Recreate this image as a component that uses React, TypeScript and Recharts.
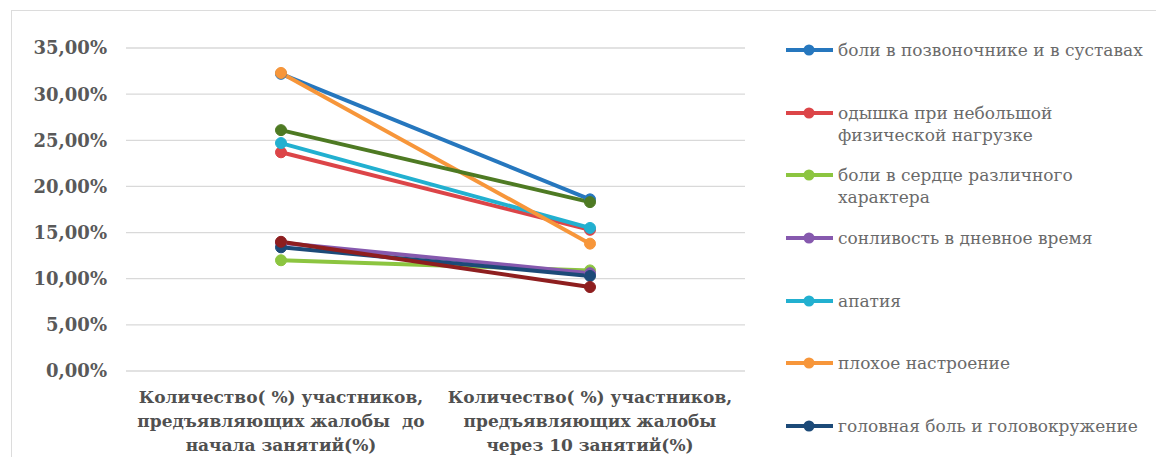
import React from 'react';
import { LineChart, Line, XAxis, YAxis, CartesianGrid, Legend } from 'recharts';

// categories (line breaks as in the original axis labels)
const categories = [
    'Количество( %) участников,\nпредъявляющих жалобы  до\nначала занятий(%)',
    'Количество( %) участников,\nпредъявляющих жалобы\nчерез 10 занятий(%)',
];

// share of participants with each complaint: [before, after 10 sessions]
const spine = [0.322, 0.186];
const dyspnea = [0.237, 0.153];
const heart = [0.12, 0.109];
const sleepiness = [0.139, 0.106];
const apathy = [0.247, 0.155];
const mood = [0.323, 0.138];
const headache = [0.134, 0.103];
const extraRed = [0.14, 0.091];
const extraGreen = [0.261, 0.183];

const yTicks = [0, 0.05, 0.1, 0.15, 0.2, 0.25, 0.3, 0.35];

const series = [
    { key: 'spine', name: 'боли в позвоночнике и в суставах', values: spine, color: '#2677BE' },
    { key: 'dyspnea', name: 'одышка при небольшой\nфизической нагрузке', values: dyspnea, color: '#DC4548' },
    { key: 'heart', name: 'боли в сердце различного\nхарактера', values: heart, color: '#8CC540' },
    { key: 'sleepiness', name: 'сонливость в дневное время', values: sleepiness, color: '#8659AE' },
    { key: 'apathy', name: 'апатия', values: apathy, color: '#22B0D0' },
    { key: 'mood', name: 'плохое настроение', values: mood, color: '#F7963A' },
    { key: 'headache', name: 'головная боль и головокружение', values: headache, color: '#1C4A78' },
    { key: 'extraRed', name: 'extraRed', values: extraRed, color: '#8E1E1F', hidden: true },
    { key: 'extraGreen', name: 'extraGreen', values: extraGreen, color: '#4E7A23', hidden: true },
];

const data = categories.map((c, i) => {
    const row: Record<string, string | number> = { category: c };
    series.forEach(s => { row[s.key] = s.values[i]; });
    return row;
});

const pct = (v: number) => (v * 100).toFixed(2).replace('.', ',') + '%';

const CategoryTick = (props: any) => {
    const { x, y, payload } = props;
    const lines = String(payload.value).split('\n');
    return (
        <g transform={`translate(${x},${y})`}>
            <text textAnchor="middle" fill="#505050" fontFamily="DejaVu Serif" fontWeight="bold" fontSize={17}>
                {lines.map((l, i) => (
                    <tspan key={i} x={0} dy={24} style={{ whiteSpace: 'pre' }}>{l}</tspan>
                ))}
            </text>
        </g>
    );
};

const order = series.map(s => s.name);

const renderLegend = (props: any) => {
    const items = (props.payload || [])
        .filter((p: any) => p.type !== 'none')
        .sort((a: any, b: any) => order.indexOf(a.value) - order.indexOf(b.value));
    return (
        <div>
            {items.map((p: any) => (
                <div key={p.value} style={{ display: 'flex', alignItems: 'flex-start', height: 62.7 }}>
                    <svg width={52} height={22} style={{ flex: 'none' }}>
                        <line x1={0} y1={11} x2={47} y2={11} stroke={p.color} strokeWidth={4} />
                        <circle cx={23} cy={11} r={5.5} fill={p.color} />
                    </svg>
                    <div style={{ whiteSpace: 'pre-line', lineHeight: '22px', fontFamily: 'DejaVu Serif', fontSize: 17, color: '#6a6a6a' }}>
                        {p.value}
                    </div>
                </div>
            ))}
        </div>
    );
};

export default function App() {
    return (
        <div style={{ position: 'relative', width: 1156, height: 449, overflow: 'hidden' }}>
            <div style={{ position: 'absolute', left: 3, top: 2, width: 1200, height: 500, border: '1px solid #dcdcdc' }} />
            <LineChart width={1156} height={449} data={data} margin={{ top: 40, right: 39, left: 18, bottom: 6 }}>
                <CartesianGrid vertical={false} stroke="#d9d9d9" strokeWidth={1.3} />
                <XAxis
                    dataKey="category"
                    axisLine={false}
                    tickLine={false}
                    tick={<CategoryTick />}
                    height={80}
                    interval={0}
                    padding={{ left: 155, right: 155 }}
                />
                <YAxis
                    domain={[0, 0.35]}
                    ticks={yTicks}
                    tickFormatter={pct}
                    axisLine={false}
                    tickLine={false}
                    width={100}
                    tickMargin={13}
                    tick={{ fill: '#595959', fontFamily: 'DejaVu Serif', fontWeight: 'bold', fontSize: 18 }}
                />
                <Legend
                    content={renderLegend}
                    layout="vertical"
                    verticalAlign="top"
                    align="right"
                    wrapperStyle={{ position: 'absolute', left: 778, top: 31, width: 380 }}
                />
                {series.map(s => (
                    <Line
                        key={s.key}
                        dataKey={s.key}
                        name={s.name}
                        stroke={s.color}
                        strokeWidth={4}
                        dot={{ r: 5.5, fill: s.color, stroke: s.color, strokeWidth: 1 }}
                        legendType={s.hidden ? 'none' : 'line'}
                        isAnimationActive={false}
                    />
                ))}
            </LineChart>
        </div>
    );
}
